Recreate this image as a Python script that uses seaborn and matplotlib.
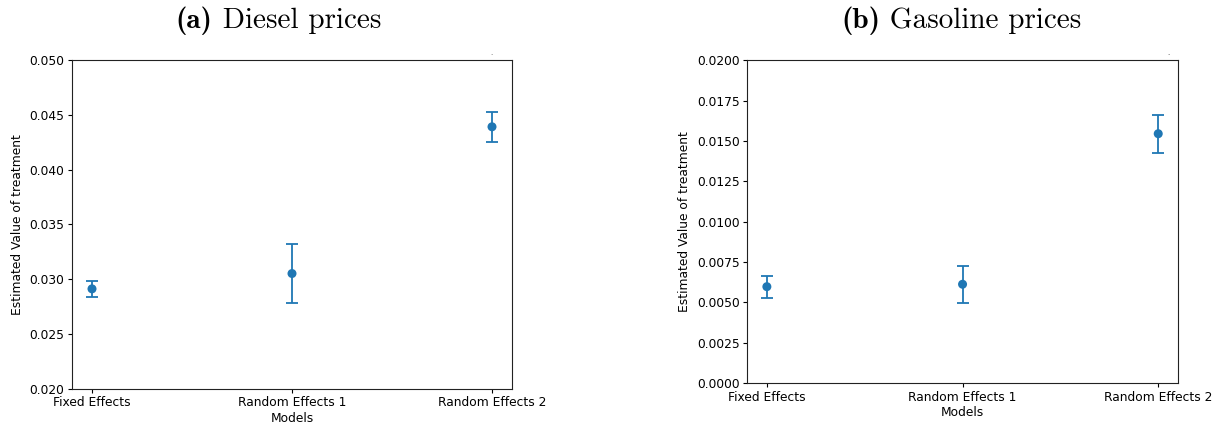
import matplotlib
matplotlib.use("Agg")
import matplotlib.pyplot as plt
import seaborn as sns
import pandas as pd

sns.set_style("ticks")
plt.rcParams["font.family"] = ["DejaVu Sans"]
for key in ["text.color", "axes.labelcolor", "xtick.color", "ytick.color"]:
    plt.rcParams[key] = "black"

models = ["Fixed Effects", "Random Effects 1", "Random Effects 2"]

diesel_est = [0.0291, 0.0305, 0.0439]
diesel_err = [0.00076, 0.00271, 0.00137]

gasoline_est = [0.00597, 0.00612, 0.01545]
gasoline_err = [0.00068, 0.00116, 0.00118]

diesel_ylim = (0.020, 0.050)
gasoline_ylim = (0.0, 0.020)

color = "#1f77b4"
tick_fs = 8.8

fig = plt.figure(figsize=(12.17, 4.26), dpi=100)
ax_d = fig.add_axes([72 / 1217, 1 - 388.5 / 426, 440 / 1217, 328.5 / 426])
ax_g = fig.add_axes([747.3 / 1217, 1 - 383 / 426, 430.5 / 1217, 322.7 / 426])


def draw_panel(ax, est, err, ylim):
    df = pd.DataFrame({"Models": models, "Estimate": est, "Error": err})
    sns.scatterplot(data=df, x="Models", y="Estimate", ax=ax, color=color,
                    s=42, edgecolor="none", zorder=3)
    ax.errorbar(df["Models"], df["Estimate"], yerr=df["Error"], fmt="none",
                ecolor=color, elinewidth=1.3, capsize=4.4, capthick=1.3)
    ax.set_xlim(-0.1, 2.1)
    ax.set_ylim(*ylim)
    ax.set_xlabel("Models", fontsize=tick_fs, labelpad=2)
    ax.set_ylabel("Estimated Value of treatment", fontsize=tick_fs)
    ax.tick_params(labelsize=tick_fs, length=3, width=0.8, pad=2.5)
    for s in ax.spines.values():
        s.set_visible(True)
        s.set_linewidth(0.8)
        s.set_color("#222222")


draw_panel(ax_d, diesel_est, diesel_err, diesel_ylim)
draw_panel(ax_g, gasoline_est, gasoline_err, gasoline_ylim)


def caption(center_px, tag, text, size=21):
    # bold tag followed by a roman caption, centred as one line
    renderer = fig.canvas.get_renderer()
    y = 1 - 21 / 426
    t1 = fig.text(0, y, tag, fontfamily="cmb10", fontsize=size,
                  ha="left", va="center")
    t2 = fig.text(0, y, " " + text, fontfamily="cmr10", fontsize=size,
                  ha="left", va="center")
    w1 = t1.get_window_extent(renderer).width
    w2 = t2.get_window_extent(renderer).width
    x0 = center_px - (w1 + w2) / 2
    t1.set_x(x0 / 1217)
    t2.set_x((x0 + w1) / 1217)


caption(278.5, "(a)", "Diesel prices")
caption(961, "(b)", "Gasoline prices")

fig.text(491.5 / 1217, 1 - 53 / 426, ".", ha="center", va="center",
         fontsize=5, color="#555555")
fig.text(1168 / 1217, 1 - 53 / 426, ".", ha="center", va="center",
         fontsize=5, color="#333333")

fig.savefig("out.png", dpi=100)
